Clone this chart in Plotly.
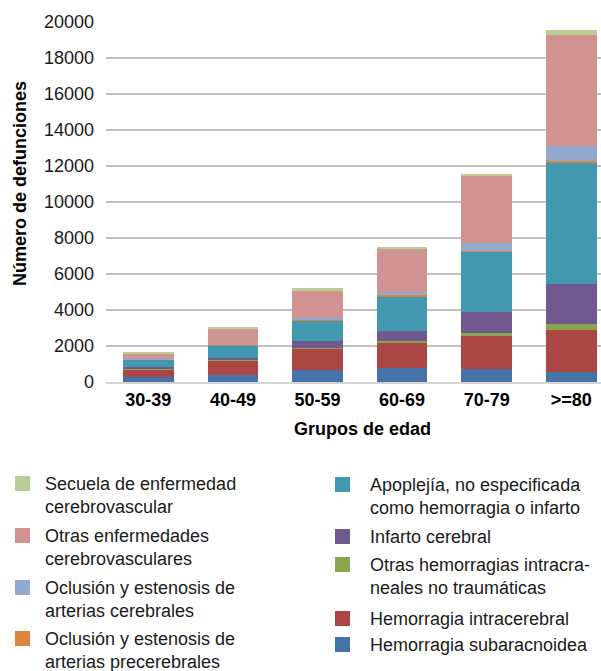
import plotly.graph_objects as go

# Deaths from cerebrovascular disease by age group and cause
age_groups = ["30-39", "40-49", "50-59", "60-69", "70-79", ">=80"]

hem_subaracnoidea = [280, 370, 670, 800, 720, 575]
hem_intracerebral = [440, 800, 1180, 1370, 1835, 2330]
otras_hemorragias = [30, 55, 60, 110, 165, 335]
infarto_cerebral = [90, 110, 370, 555, 1185, 2220]
apoplejia = [390, 720, 1160, 1940, 3320, 6760]
oclusion_precerebrales = [10, 15, 30, 50, 40, 40]
oclusion_cerebrales = [20, 30, 80, 190, 460, 870]
otras_enfermedades = [300, 850, 1560, 2380, 3720, 6150]
secuela = [110, 110, 110, 110, 110, 280]

y_ticks = list(range(0, 20001, 2000))

# stacking order, bottom to top
series = [
    ("Hemorragia subaracnoidea", hem_subaracnoidea, "#4572A7"),
    ("Hemorragia intracerebral", hem_intracerebral, "#AA4643"),
    ("Otras hemorragias intracra-<br>neales no traumáticas", otras_hemorragias, "#89A54E"),
    ("Infarto cerebral", infarto_cerebral, "#71588F"),
    ("Apoplejía, no especificada<br>como hemorragia o infarto", apoplejia, "#4198AF"),
    ("Oclusión y estenosis de<br>arterias precerebrales", oclusion_precerebrales, "#DB843D"),
    ("Oclusión y estenosis de<br>arterias cerebrales", oclusion_cerebrales, "#93A9CF"),
    ("Otras enfermedades<br>cerebrovasculares", otras_enfermedades, "#D19392"),
    ("Secuela de enfermedad<br>cerebrovascular", secuela, "#B9CD96"),
]

W, H = 601, 671
M_L, M_R, M_T, M_B = 106, 0, 22, 289
PW, PH = W - M_L - M_R, H - M_T - M_B
FONT = "Liberation Sans, Arial, sans-serif"


def px_x(px):
    return (px - M_L) / PW


def px_y(py):
    return (H - M_B - py) / PH


fig = go.Figure()
for name, vals, color in series:
    fig.add_trace(go.Bar(
        x=age_groups, y=vals, name=name.replace("<br>", " "),
        marker=dict(color=color, line=dict(width=0)),
        showlegend=False,
    ))

# legend: two columns, (series index, marker top in px)
left_col = [(8, 476), (7, 528), (6, 580), (5, 631)]
right_col = [(4, 477), (3, 529), (2, 557), (1, 611), (0, 637)]

shapes = []
annotations = []
for col, mx, tx in ((left_col, 15, 43), (right_col, 335, 368)):
    for idx, top in col:
        name, _, color = series[idx]
        shapes.append(dict(
            type="rect", xref="paper", yref="paper",
            x0=px_x(mx), x1=px_x(mx + 15), y0=px_y(top + 15), y1=px_y(top),
            fillcolor=color, line=dict(width=0),
        ))
        annotations.append(dict(
            text=name, xref="paper", yref="paper",
            x=px_x(tx), y=px_y(top - 4), xanchor="left", yanchor="top",
            align="left", showarrow=False,
            font=dict(family=FONT, size=18, color="#1a1a1a"),
        ))

annotations.append(dict(
    text="<b>Número de defunciones</b>", xref="paper", yref="paper",
    x=px_x(20), y=px_y(184), xanchor="center", yanchor="middle",
    textangle=-90, showarrow=False,
    font=dict(family=FONT, size=18, color="#000000"),
))
annotations.append(dict(
    text="<b>Grupos de edad</b>", xref="paper", yref="paper",
    x=px_x(362), y=px_y(429), xanchor="center", yanchor="middle",
    showarrow=False,
    font=dict(family=FONT, size=18, color="#000000"),
))

fig.update_layout(
    width=W, height=H,
    margin=dict(l=M_L, r=M_R, t=M_T, b=M_B),
    barmode="stack", bargap=0.4,
    paper_bgcolor="white", plot_bgcolor="white",
    font=dict(family=FONT, size=18, color="#000000"),
    shapes=shapes, annotations=annotations,
)
fig.update_xaxes(
    type="category", range=[-0.5, 5.351],
    tickfont=dict(family=FONT, size=18, color="#000000"),
    tickprefix="<b>", ticksuffix="</b>",
    showline=True, linecolor="#d4d4d4", linewidth=2,
    showgrid=False, ticks="", ticklabelstandoff=0,
)
fig.update_yaxes(
    range=[0, 20000], tickvals=y_ticks, tickformat="d",
    tickfont=dict(family=FONT, size=18, color="#1a1a1a"),
    showgrid=True, gridcolor="#c0c0c0", gridwidth=1.5,
    zeroline=False, showline=False, ticks="", ticklabelstandoff=11,
)

fig.write_html("out.html")
